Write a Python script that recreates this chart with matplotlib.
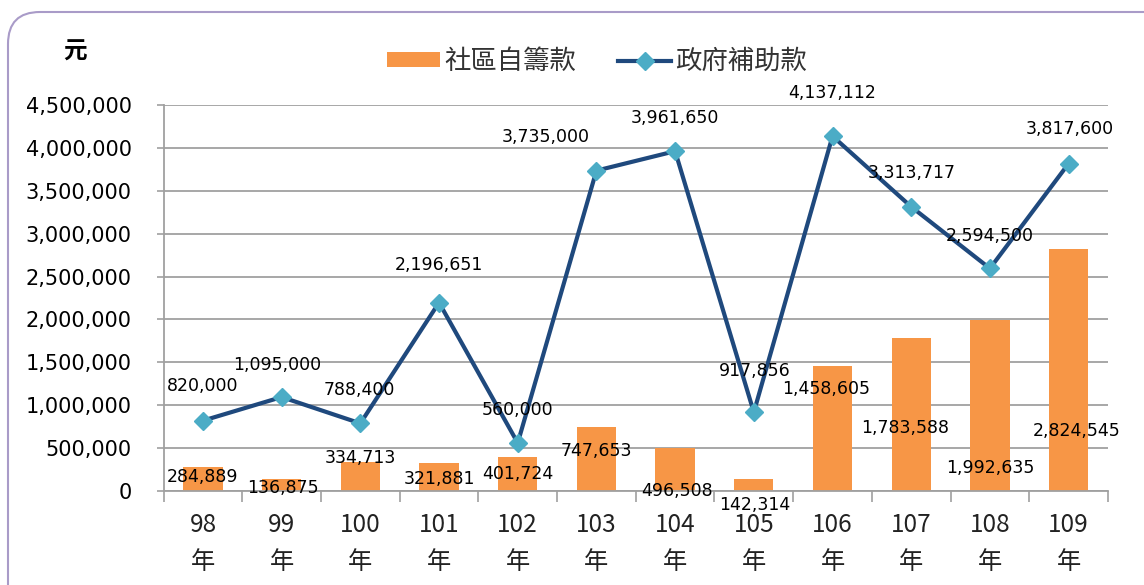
import numpy as np
import matplotlib.pyplot as plt
import matplotlib.patches as mpatches
from matplotlib.transforms import IdentityTransform
from matplotlib.ticker import FuncFormatter, FixedLocator

plt.rcParams['font.family'] = ['DejaVu Sans', 'Noto Sans CJK TC']

years = ["98", "99", "100", "101", "102", "103", "104", "105", "106", "107", "108", "109"]
community = [284889, 136875, 334713, 321881, 401724, 747653,
             496508, 142314, 1458605, 1783588, 1992635, 2824545]
government = [820000, 1095000, 788400, 2196651, 560000, 3735000,
              3961650, 917856, 4137112, 3313717, 2594500, 3817600]

# label offsets in pixels (dx, dy) relative to the bar top / line point
bar_offsets = [(0, -10), (1, -9), (0, 4), (0, -16), (0, -17), (0, -24),
               (2, -43), (1, -26), (-6, -23), (-6, -90), (0, -148), (8, -182)]
line_offsets = [(0, 35), (-4, 32), (-1, 33), (0, 38), (0, 33), (-51, 34),
                (0, 33), (1, 41), (0, 43), (0, 34), (0, 32), (1, 35)]

BAR_COLOR = '#F79646'
LINE_COLOR = '#1F497D'
MARKER_COLOR = '#4BACC6'
GRID_COLOR = '#A0A0A0'

fig = plt.figure(figsize=(11.44, 5.85), dpi=100)
ax = fig.add_axes([0.143, 0.1607, 0.8255, 0.6598])

x = np.arange(len(years))
bars = ax.bar(x, community, width=0.5, color=BAR_COLOR, zorder=2, label='社區自籌款')
line, = ax.plot(x, government, color=LINE_COLOR, linewidth=3, marker='D',
                markersize=9, markerfacecolor=MARKER_COLOR, markeredgecolor=MARKER_COLOR,
                zorder=3, label='政府補助款')

for i, v in enumerate(community):
    ax.annotate(f"{v:,}", (x[i], v), xytext=bar_offsets[i], textcoords='offset pixels',
                ha='center', va='center', fontsize=12.5, zorder=4)
for i, v in enumerate(government):
    ax.annotate(f"{v:,}", (x[i], v), xytext=line_offsets[i], textcoords='offset pixels',
                ha='center', va='center', fontsize=12.5, zorder=4)

ax.set_xlim(-0.5, len(years) - 0.5)
ax.set_ylim(0, 4500000)
ax.set_yticks(np.arange(0, 4500001, 500000))
ax.yaxis.set_major_formatter(FuncFormatter(lambda v, p: f"{int(v):,}"))
ax.tick_params(axis='y', labelsize=15, length=5, width=1.2, color=GRID_COLOR, pad=18)

ax.set_xticks(x)
ax.set_xticklabels([f"{y}\n年" for y in years], fontsize=17.5, linespacing=1.55,
                   family=['Noto Sans CJK TC'], color='#222222')
ax.tick_params(axis='x', which='major', length=0, pad=15)
ax.xaxis.set_minor_locator(FixedLocator(np.arange(-0.5, len(years), 1)))
ax.tick_params(axis='x', which='minor', length=8, width=1.2, color=GRID_COLOR)

ax.grid(axis='y', color=GRID_COLOR, linewidth=1.3, zorder=0)
ax.set_axisbelow(True)
for side in ['top', 'right']:
    ax.spines[side].set_visible(False)
for side in ['left', 'bottom']:
    ax.spines[side].set_color(GRID_COLOR)
    ax.spines[side].set_linewidth(1.3)

leg = ax.legend(handles=[bars, line], loc='center', bbox_to_anchor=(0.459, 1.111),
                ncol=2, frameon=False, fontsize=19, handlelength=2.0, handleheight=0.5,
                columnspacing=1.6, handletextpad=0.15)
for t in leg.get_texts():
    t.set_color('#333333')

fig.text(75 / 1144, 1 - 52 / 585, '元', fontsize=17, ha='center', va='center',
         fontweight='bold')

frame = mpatches.FancyBboxPatch((8, -60), 1250, 585 - 12 + 60,
                                boxstyle="round,pad=0,rounding_size=32",
                                transform=IdentityTransform(), facecolor='none',
                                edgecolor='#A99BC8', linewidth=1.5)
fig.add_artist(frame)

fig.savefig('out.png', dpi=100)
